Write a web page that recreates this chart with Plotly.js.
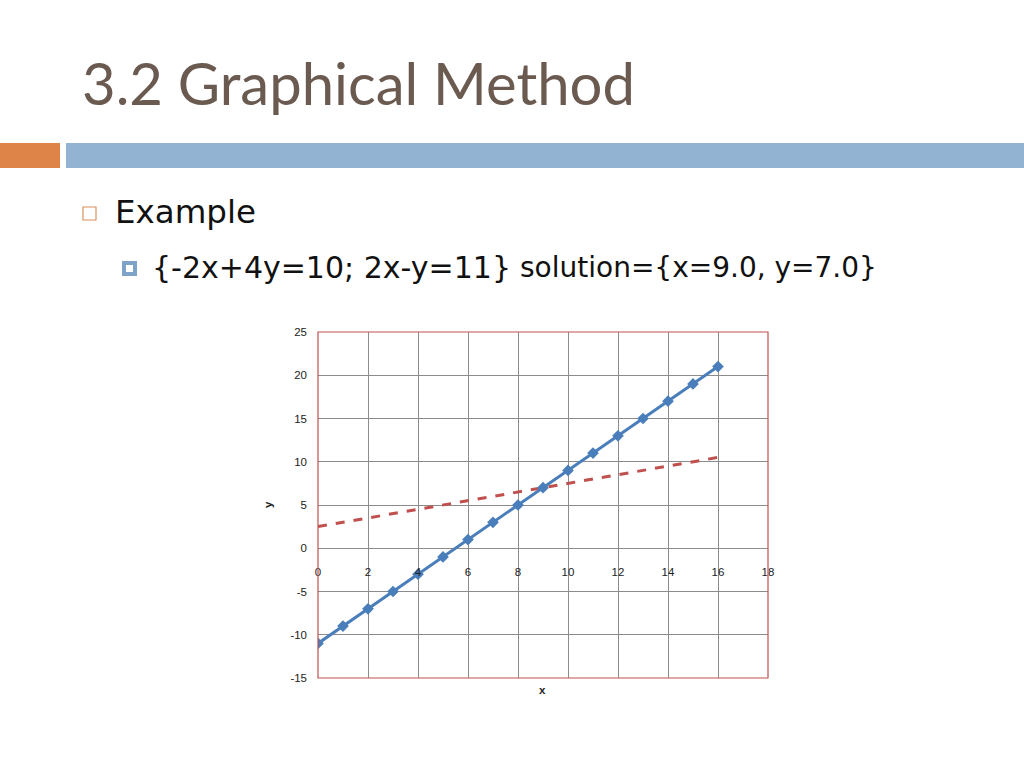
<!DOCTYPE html>
<html>
<head>
<meta charset="utf-8">
<script src="https://cdn.plot.ly/plotly-3.0.1.min.js"></script>
<style>
  html, body { margin: 0; padding: 0; background: #fff; }
  #chart { width: 1024px; height: 768px; }
</style>
</head>
<body>
<div id="chart"></div>
<script>
// values: 2x - y = 11 (solid) and -2x + 4y = 10 (dashed)
const xVals = [0, 1, 2, 3, 4, 5, 6, 7, 8, 9, 10, 11, 12, 13, 14, 15, 16];
const line2Vals = [-11, -9, -7, -5, -3, -1, 1, 3, 5, 7, 9, 11, 13, 15, 17, 19, 21];
const line1Vals = [2.5, 3, 3.5, 4, 4.5, 5, 5.5, 6, 6.5, 7, 7.5, 8, 8.5, 9, 9.5, 10, 10.5];
const xTicks = [0, 2, 4, 6, 8, 10, 12, 14, 16, 18];
const yTicks = [-15, -10, -5, 0, 5, 10, 15, 20, 25];
const yTickLabels = ["-15", "-10", "-5", "0", "5", "10", "15", "20", "25"];

const titleText = "3.2 Graphical Method";
const bulletText = "Example";
const systemText = "{-2x+4y=10; 2x-y=11}";
const solutionText = "solution={x=9.0, y=7.0}";

// plot box on the slide (px)
const W = 1024, H = 768;
const box = { left: 318, right: 768, top: 332, bottom: 678 };
const yDom = [1 - box.bottom / H, 1 - box.top / H];
const yRange = [-15, 25];
// where y=0 lands in paper coords, so the x tick labels sit on that line
const zeroPos = yDom[0] + (0 - yRange[0]) / (yRange[1] - yRange[0]) * (yDom[1] - yDom[0]);

const px = (v) => v / W;
const py = (v) => 1 - v / H;

const traces = [
  {
    x: xVals,
    y: line1Vals,
    mode: "lines",
    line: { color: "#c0504d", width: 3, dash: "dash" },
    name: "-2x+4y=10",
  },
  {
    x: xVals,
    y: line2Vals,
    mode: "lines+markers",
    line: { color: "#4a7ebb", width: 3 },
    marker: { symbol: "diamond", size: 9, color: "#4a7ebb" },
    name: "2x-y=11",
  },
];

const tickFont = { family: "Liberation Sans, Arial, sans-serif", size: 11.5, color: "#222" };
const bodyFont = "DejaVu Sans, sans-serif";

const layout = {
  width: W,
  height: H,
  margin: { l: 0, r: 0, t: 0, b: 0 },
  paper_bgcolor: "#fff",
  plot_bgcolor: "#fff",
  showlegend: false,
  xaxis: {
    domain: [px(box.left), px(box.right)],
    range: [0, 18],
    tickvals: xTicks,
    anchor: "free",
    position: zeroPos,
    showline: false,
    zeroline: false,
    showgrid: true,
    gridcolor: "#8c8c8c",
    gridwidth: 1,
    ticks: "",
    ticklabelstandoff: 15,
    tickfont: tickFont,
  },
  yaxis: {
    domain: yDom,
    range: yRange,
    tickvals: yTicks,
    ticktext: yTickLabels,
    showline: false,
    zeroline: false,
    showgrid: true,
    gridcolor: "#8c8c8c",
    gridwidth: 1,
    ticks: "",
    ticklabelstandoff: 10,
    tickfont: tickFont,
  },
  shapes: [
    // plot border
    { type: "rect", xref: "x domain", yref: "y domain", x0: 0, x1: 1, y0: 0, y1: 1,
      line: { color: "#c0504d", width: 1.2 }, layer: "above" },
    // header bars
    { type: "rect", xref: "paper", yref: "paper", x0: 0, x1: px(60), y0: py(168), y1: py(143),
      fillcolor: "#df8448", line: { width: 0 } },
    { type: "rect", xref: "paper", yref: "paper", x0: px(66), x1: 1, y0: py(168), y1: py(143),
      fillcolor: "#93b3d3", line: { width: 0 } },
    // bullets
    { type: "rect", xref: "paper", yref: "paper", x0: px(83), x1: px(96), y0: py(220), y1: py(207),
      fillcolor: "#fff", line: { color: "#d9905f", width: 1.2 } },
    { type: "rect", xref: "paper", yref: "paper", x0: px(122), x1: px(137), y0: py(276), y1: py(261),
      fillcolor: "#7ea2c8", line: { width: 0 } },
    { type: "rect", xref: "paper", yref: "paper", x0: px(126), x1: px(133), y0: py(272), y1: py(265),
      fillcolor: "#fff", line: { width: 0 } },
  ],
  annotations: [
    { text: titleText, xref: "paper", yref: "paper", x: px(80), y: py(83),
      xanchor: "left", yanchor: "middle", showarrow: false,
      font: { family: "Lato, sans-serif", size: 58, color: "#6b5a50" } },
    { text: bulletText, xref: "paper", yref: "paper", x: px(113), y: py(212),
      xanchor: "left", yanchor: "middle", showarrow: false,
      font: { family: bodyFont, size: 32.5, color: "#111" } },
    { text: systemText, xref: "paper", yref: "paper", x: px(150), y: py(268),
      xanchor: "left", yanchor: "middle", showarrow: false,
      font: { family: bodyFont, size: 30, color: "#111" } },
    { text: solutionText, xref: "paper", yref: "paper", x: px(518), y: py(268),
      xanchor: "left", yanchor: "middle", showarrow: false,
      font: { family: bodyFont, size: 28, color: "#111" } },
    // axis titles
    { text: "<b>x</b>", xref: "paper", yref: "paper", x: px(542), y: py(690),
      xanchor: "center", yanchor: "middle", showarrow: false,
      font: { family: "Liberation Sans, Arial, sans-serif", size: 11.5, color: "#222" } },
    { text: "<b>y</b>", xref: "paper", yref: "paper", x: px(268), y: py(505),
      xanchor: "center", yanchor: "middle", showarrow: false, textangle: -90,
      font: { family: "Liberation Sans, Arial, sans-serif", size: 11.5, color: "#222" } },
  ],
};

Plotly.newPlot("chart", traces, layout, { staticPlot: true, displayModeBar: false });
</script>
</body>
</html>
